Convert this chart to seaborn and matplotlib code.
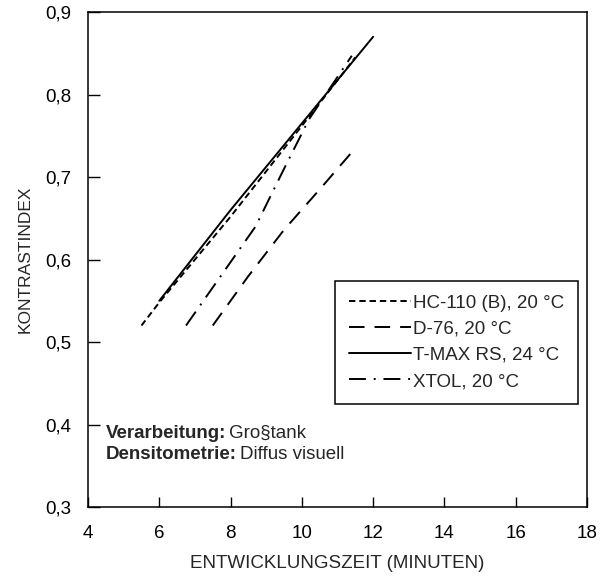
import matplotlib
matplotlib.use("Agg")
import matplotlib.pyplot as plt
import seaborn as sns
import pandas as pd

# ---- data ----
hc110_x = [5.5, 6.0, 8.0, 10.0, 11.5]
hc110_y = [0.52, 0.548, 0.652, 0.762, 0.845]

d76_x = [7.5, 8.5, 9.5, 10.5, 11.4]
d76_y = [0.52, 0.58, 0.636, 0.685, 0.73]

tmax_x = [6.0, 8.0, 10.0, 12.0]
tmax_y = [0.55, 0.66, 0.765, 0.87]

xtol_x = [6.75, 8.7, 9.5, 10.2, 11.4]
xtol_y = [0.52, 0.64, 0.71, 0.77, 0.847]

labels = ["HC-110 (B), 20 °C", "D-76, 20 °C", "T-MAX RS, 24 °C", "XTOL, 20 °C"]
x_ticks = [4, 6, 8, 10, 12, 14, 16, 18]
y_ticks = [0.3, 0.4, 0.5, 0.6, 0.7, 0.8, 0.9]
y_ticklabels = ["0,3", "0,4", "0,5", "0,6", "0,7", "0,8", "0,9"]
notes = [("Verarbeitung:", "Gro§tank"), ("Densitometrie:", "Diffus visuell")]

sns.set_style("white")
plt.rcParams["font.family"] = ["Liberation Sans", "DejaVu Sans"]
plt.rcParams["lines.scale_dashes"] = False

fig = plt.figure(figsize=(6.04, 5.78), dpi=100)
ax = fig.add_axes([0.1457, 0.1228, 0.8262, 0.8564])

series = [
    (hc110_x, hc110_y, labels[0], (0, (4.6, 2.8))),
    (d76_x, d76_y, labels[1], (0, (11.2, 7.2))),
    (tmax_x, tmax_y, labels[2], "-"),
    (xtol_x, xtol_y, labels[3], (0, (12.2, 5.6, 1.4, 5.6))),
]
for xs, ys, lab, ls in series:
    df = pd.DataFrame({"x": xs, "y": ys})
    sns.lineplot(data=df, x="x", y="y", ax=ax, color="black", linewidth=1.4,
                 linestyle=ls, label=lab, sort=False, estimator=None)

ax.set_xlim(4, 18)
ax.set_ylim(0.3, 0.9)
ax.set_xticks(x_ticks)
ax.set_xticklabels([str(t) for t in x_ticks])
ax.set_yticks(y_ticks)
ax.set_yticklabels(y_ticklabels)
ax.tick_params(axis="x", direction="in", length=7, width=1.0, pad=13,
               labelsize=13.5, colors="black", bottom=True, top=False)
ax.tick_params(axis="y", direction="in", length=8.5, width=1.0, pad=12,
               labelsize=13.5, colors="black", left=True, right=False)
for s in ax.spines.values():
    s.set_color("black")
    s.set_linewidth(1.1)

ax.set_xlabel("ENTWICKLUNGSZEIT (MINUTEN)", fontsize=13.5, labelpad=9.5)
ax.set_ylabel("KONTRASTINDEX", fontsize=12.5, labelpad=9)

leg = ax.legend(loc="upper right", bbox_to_anchor=(0.982, 0.4566), borderaxespad=0,
                frameon=True, fancybox=False, edgecolor="black", framealpha=1,
                handlelength=3.3, handletextpad=0.15, labelspacing=0.48,
                borderpad=0.72, fontsize=13.5)
leg.get_frame().set_linewidth(1.1)

fig.canvas.draw()
renderer = fig.canvas.get_renderer()
inv = ax.transAxes.inverted()
for (lab, val), yy in zip(notes, [0.1495, 0.107]):
    t = ax.text(0.036, yy, lab, transform=ax.transAxes, fontsize=13.5,
                fontweight="bold", va="center", ha="left")
    bb = t.get_window_extent(renderer=renderer)
    x_end = inv.transform((bb.x1 + 3, bb.y0))[0]
    ax.text(x_end, yy, val, transform=ax.transAxes, fontsize=13.5,
            va="center", ha="left")

fig.savefig("out.png", dpi=100)
